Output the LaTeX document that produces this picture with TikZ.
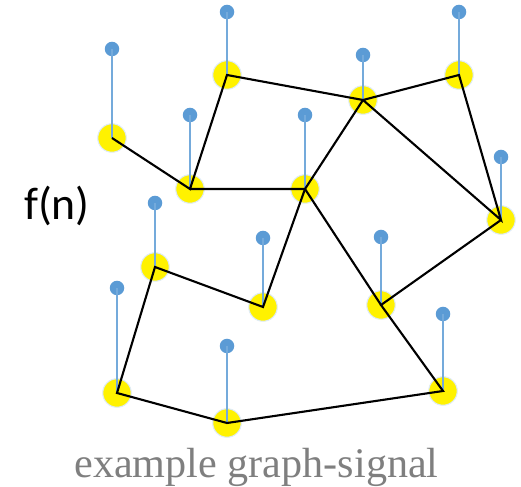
\documentclass[tikz,border=0pt]{standalone}
\usepackage{fontspec}
\setmainfont{Liberation Serif}
\newfontfamily\calibri{Carlito}
\usepackage{tikz}
\usetikzlibrary{calc}

\definecolor{sigblue}{HTML}{5B9BD5}
\definecolor{capgray}{HTML}{7F7F7F}

\tikzset{
  vertex/.style={circle, fill=yellow, draw=sigblue!20, line width=0.6pt, minimum size=0.57cm, inner sep=0pt},
  sigdot/.style={circle, fill=sigblue, minimum size=0.29cm, inner sep=0pt},
  stem/.style={sigblue!85, line width=1pt},
  edge/.style={black, line width=1.2pt, line join=miter}
}

\begin{document}
\begin{tikzpicture}
  \useasboundingbox (0,0) rectangle (10.42,-9.74);
  % 图的顶点（黄色圆）
  \node[vertex] (v1)  at (2.24,-2.76) {};
  \node[vertex] (v2)  at (4.54,-1.50) {};
  \node[vertex] (v3)  at (3.80,-3.78) {};
  \node[vertex] (v4)  at (6.10,-3.78) {};
  \node[vertex] (v5)  at (7.26,-2.00) {};
  \node[vertex] (v6)  at (9.18,-1.50) {};
  \node[vertex] (v7)  at (10.02,-4.40) {};
  \node[vertex] (v8)  at (3.10,-5.34) {};
  \node[vertex] (v9)  at (5.26,-6.14) {};
  \node[vertex] (v10) at (7.62,-6.10) {};
  \node[vertex] (v11) at (2.34,-7.86) {};
  \node[vertex] (v12) at (4.54,-8.46) {};
  \node[vertex] (v13) at (8.86,-7.82) {};
  % 每个顶点上的信号值：竖线加蓝点
  \foreach \v/\h in {1/1.78, 2/1.26, 3/1.48, 4/1.48, 5/0.90, 6/1.26, 7/1.26,
                     8/1.28, 9/1.38, 10/1.36, 11/2.10, 12/1.54, 13/1.54} {
    \node[sigdot] (s\v) at ($(v\v)+(0,\h)$) {};
    \draw[stem] (v\v.center) -- (s\v.center);
  }
  % 图的边
  \draw[edge] (v1.center) -- (v3.center) -- (v2.center) -- (v5.center) -- (v6.center) -- (v7.center) -- (v5.center);
  \draw[edge] (v3.center) -- (v4.center) -- (v5.center);
  \draw[edge] (v4.center) -- (v9.center) -- (v8.center) -- (v11.center) -- (v12.center) -- (v13.center) -- (v10.center) -- (v7.center);
  \draw[edge] (v4.center) -- (v10.center);
  % 文字
  \node[font=\calibri\fontsize{26}{31}\selectfont] (fn) at (1.14,-4.12) {f(n)};
  \node[anchor=base, text=capgray, font=\fontsize{24}{29}\selectfont] (cap) at (5.13,-9.56) {example graph-signal};
\end{tikzpicture}
\end{document}
